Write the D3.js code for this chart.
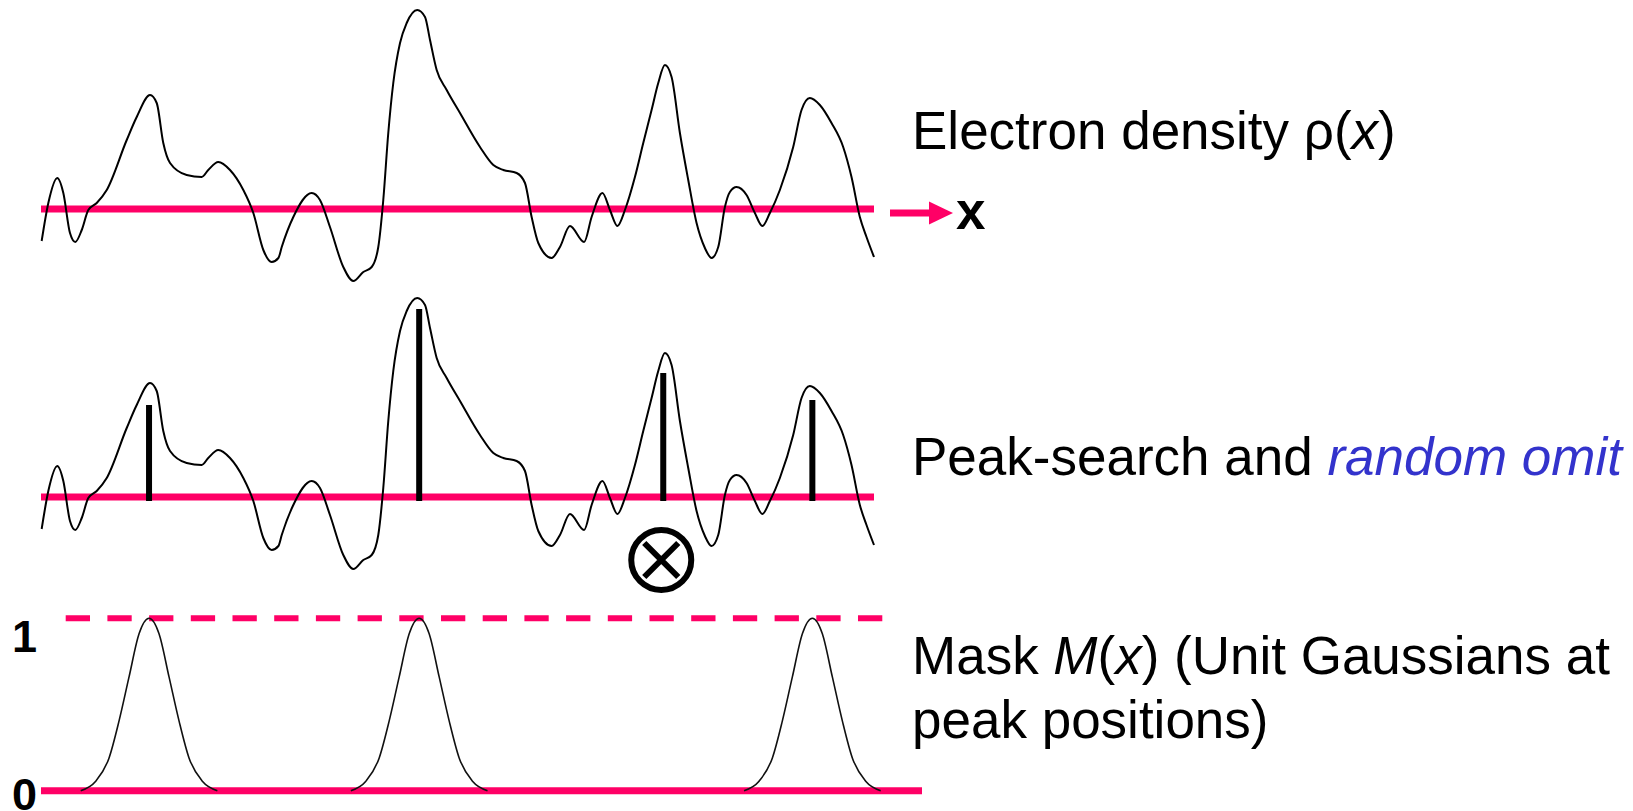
<!DOCTYPE html>
<html>
<head>
<meta charset="utf-8">
<script src="https://cdn.jsdelivr.net/npm/d3@7"></script>
<style>
  body { margin: 0; background: #fff; }
  svg text { font-family: "Liberation Sans", Arial, sans-serif; }
</style>
</head>
<body>
<div id="chart-area"></div>
<script>
// electron density rho(x) (position 0..100, density in arbitrary units)
const densityX = [0.08, 0.88, 1.96, 2.68, 3.48, 4.12, 4.89, 5.68, 6.69, 7.89, 10.29, 11.49, 13.09, 13.89, 14.68, 15.49,
    17.49, 19.29, 20.08, 21.28, 22.69, 24.29, 25.49, 26.69, 27.69, 28.5, 28.9, 30.29, 32.5, 33.49, 34.69, 36.29,
    37.49, 38.69, 39.7, 40.49, 41.09, 41.69, 42.29, 43.1, 43.9, 45.17, 46.1, 46.7, 47.5, 48.7, 50.3, 52.7,
    54.3, 55.5, 57.1, 58.1, 58.9, 59.7, 61.3, 62.3, 63.5, 65.2, 66.1, 67.4, 68.3, 69.2, 70.1, 71.3,
    72.3, 73.3, 74.1, 74.9, 75.7, 76.7, 77.7, 78.7, 79.7, 80.5, 81.3, 82.1, 82.7, 83.5, 84.7, 85.7,
    86.6, 87.5, 88.7, 90.3, 91.3, 92.3, 93.5, 94.9, 96.3, 97.3, 98.3, 99.1, 100];
const densityY = [-0.32, 0.06, 0.31, 0.16, -0.24, -0.33, -0.21, -0.01, 0.06, 0.19, 0.69, 0.92, 1.14, 1.06, 0.66, 0.46,
    0.34, 0.32, 0.39, 0.47, 0.39, 0.19, -0.04, -0.41, -0.53, -0.49, -0.38, -0.08, 0.16, 0.09, -0.18, -0.58,
    -0.72, -0.63, -0.58, -0.38, 0.09, 0.76, 1.26, 1.66, 1.86, 1.99, 1.92, 1.69, 1.39, 1.19, 0.96, 0.62,
    0.44, 0.39, 0.36, 0.26, -0.08, -0.34, -0.49, -0.38, -0.17, -0.33, -0.08, 0.16, -0.01, -0.17, -0.01, 0.32,
    0.66, 0.99, 1.26, 1.44, 1.32, 0.76, 0.29, -0.14, -0.39, -0.49, -0.38, 0.02, 0.17, 0.22, 0.14, -0.04,
    -0.17, -0.04, 0.19, 0.62, 0.99, 1.11, 1.04, 0.86, 0.62, 0.32, -0.08, -0.28, -0.48];

// peaks found by the search, and the one that gets randomly omitted
const peakX = [12.97, 45.4, 74.7, 92.6];
const peakHeight = [0.92, 1.88, 1.24, 0.97];
const omittedPeak = 2;

// unit gaussian profile (offset from peak, value)
const maskOffset = [-8.2, -6.4, -4.8, -3.6, -2.4, -1.2, 0, 1.2, 2.4, 3.6, 4.8, 6.4, 8.2];
const maskValue = [0, 0.055, 0.19, 0.405, 0.66, 0.91, 1, 0.91, 0.66, 0.405, 0.19, 0.055, 0];
const maskTicks = ["0", "1"];

const pink = "#ff0066";
const width = 1633, height = 811;

const svg = d3.select("#chart-area")
    .append("svg")
    .attr("width", width)
    .attr("height", height);

const x = d3.scaleLinear().domain([0, 100]).range([41, 874]);
const yTop = d3.scaleLinear().domain([-1, 2]).range([309, 9]);
const yMid = d3.scaleLinear().domain([-1, 2]).range([597, 297]);
const yMask = d3.scaleLinear().domain([0, 1]).range([790.7, 618.3]);

const density = densityX.map((d, i) => ({ x: d, y: densityY[i] }));

// draw a density panel
let drawDensity = (yScale) => {
    const g = svg.append("g");
    g.append("line")
        .attr("x1", x(0)).attr("x2", x(100))
        .attr("y1", yScale(0)).attr("y2", yScale(0))
        .attr("stroke", pink)
        .attr("stroke-width", 7);
    g.append("path")
        .datum(density)
        .attr("fill", "none")
        .attr("stroke", "#000")
        .attr("stroke-width", 2)
        .attr("d", d3.line()
            .x(d => x(d.x))
            .y(d => yScale(d.y))
            .curve(d3.curveMonotoneX));
    return g;
};

drawDensity(yTop);
const mid = drawDensity(yMid);

// arrow for x axis
svg.append("line")
    .attr("x1", 890).attr("x2", 932)
    .attr("y1", 213).attr("y2", 213)
    .attr("stroke", pink)
    .attr("stroke-width", 7);
svg.append("path")
    .attr("d", "M929,201.5 L953,213 L929,224.5 Z")
    .attr("fill", pink);
svg.append("text")
    .attr("x", 956).attr("y", 229)
    .attr("font-size", "53px")
    .attr("font-weight", "bold")
    .text("x");

// peak sticks
mid.selectAll("rect.peak")
    .data(peakX)
    .enter()
    .append("rect")
    .attr("class", "peak")
    .attr("x", d => x(d) - 3)
    .attr("width", 6)
    .attr("y", (d, i) => yMid(peakHeight[i]))
    .attr("height", (d, i) => yMid(0) + 4 - yMid(peakHeight[i]))
    .attr("fill", "#000");

// omit marker
const ox = x(peakX[omittedPeak]) - 2, oy = yMid(-0.63);
const om = svg.append("g").attr("transform", "translate(" + ox + "," + oy + ")");
om.append("circle")
    .attr("r", 30)
    .attr("fill", "none")
    .attr("stroke", "#000")
    .attr("stroke-width", 6);
om.append("path")
    .attr("d", "M-17,-17 L17,17 M17,-17 L-17,17")
    .attr("stroke", "#000")
    .attr("stroke-width", 6);

// mask panel
svg.append("line")
    .attr("x1", 65.7).attr("x2", 885)
    .attr("y1", yMask(1)).attr("y2", yMask(1))
    .attr("stroke", pink)
    .attr("stroke-width", 6)
    .attr("stroke-dasharray", "24.3 17.4");
svg.append("line")
    .attr("x1", 41).attr("x2", 922)
    .attr("y1", yMask(0)).attr("y2", yMask(0))
    .attr("stroke", pink)
    .attr("stroke-width", 7);

const kept = peakX.filter((d, i) => i !== omittedPeak);
const maskLine = d3.line()
    .x(d => x(d.x))
    .y(d => yMask(d.y))
    .curve(d3.curveMonotoneX);
svg.selectAll("path.mask")
    .data(kept)
    .enter()
    .append("path")
    .attr("class", "mask")
    .attr("fill", "none")
    .attr("stroke", "#111")
    .attr("stroke-width", 1.6)
    .attr("d", p => maskLine(maskOffset.map((o, i) => ({ x: p + o, y: maskValue[i] }))));

svg.selectAll("text.tick")
    .data(maskTicks)
    .enter()
    .append("text")
    .attr("class", "tick")
    .attr("x", 12)
    .attr("y", (d, i) => i === 0 ? 810 : 652)
    .attr("font-size", "45px")
    .attr("font-weight", "bold")
    .text(d => d);

// labels
const t1 = svg.append("text").attr("x", 912).attr("y", 149).attr("font-size", "53px");
t1.append("tspan").text("Electron density \u03c1(");
t1.append("tspan").attr("font-style", "italic").text("x");
t1.append("tspan").text(")");

const t2 = svg.append("text").attr("x", 912).attr("y", 475).attr("font-size", "53px");
t2.append("tspan").text("Peak-search and ");
t2.append("tspan").attr("font-style", "italic").attr("fill", "#3333cc").text("random omit");

const t3 = svg.append("text").attr("x", 912).attr("y", 674).attr("font-size", "53px");
t3.append("tspan").text("Mask ");
t3.append("tspan").attr("font-style", "italic").text("M");
t3.append("tspan").text("(");
t3.append("tspan").attr("font-style", "italic").text("x");
t3.append("tspan").text(") (Unit Gaussians at");
svg.append("text").attr("x", 912).attr("y", 738).attr("font-size", "53px")
    .text("peak positions)");
</script>
</body>
</html>
